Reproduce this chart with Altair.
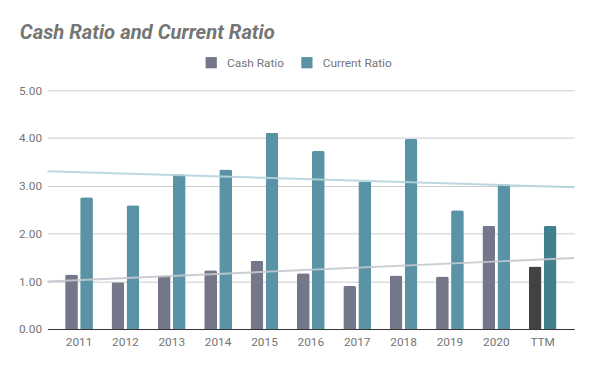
import altair as alt
import pandas as pd

years = ["2011", "2012", "2013", "2014", "2015", "2016", "2017", "2018", "2019", "2020", "TTM"]
cash_ratio = [1.14, 0.98, 1.12, 1.23, 1.43, 1.17, 0.90, 1.12, 1.10, 2.16, 1.31]
current_ratio = [2.76, 2.59, 3.24, 3.34, 4.11, 3.73, 3.09, 3.98, 2.49, 3.03, 2.16]
series_names = ["Cash Ratio", "Current Ratio"]
y_ticks = [0, 1, 2, 3, 4, 5]

rows = []
for i, yr in enumerate(years):
    for name, vals in zip(series_names, [cash_ratio, current_ratio]):
        key = name + (" TTM" if yr == "TTM" else "")
        rows.append({"year": yr, "idx": i, "series": name, "key": key, "value": vals[i]})
df = pd.DataFrame(rows)

FONT = "Roboto"
GREY = "#757575"

x_band = alt.X("year:N", sort=years, title=None,
               scale=alt.Scale(paddingInner=0.4, paddingOuter=0.381),
               axis=alt.Axis(labelAngle=0, labelColor=GREY, labelFontSize=12, labelFont=FONT,
                             ticks=False, domainColor="#333333", labelPadding=8, grid=False))
y_enc = alt.Y("value:Q", title=None,
              scale=alt.Scale(domain=[0, 5], nice=False),
              axis=alt.Axis(values=y_ticks, format=".2f", labelColor=GREY, labelFontSize=12,
                            labelFont=FONT, ticks=False, domain=False, gridColor="#cccccc",
                            labelPadding=6))

bars = alt.Chart(df).mark_bar(cornerRadiusTopLeft=2, cornerRadiusTopRight=2).encode(
    x=x_band,
    xOffset=alt.XOffset("series:N", sort=series_names, scale=alt.Scale(paddingInner=0.15)),
    y=y_enc,
    color=alt.Color("key:N",
                    scale=alt.Scale(domain=["Cash Ratio", "Current Ratio", "Cash Ratio TTM", "Current Ratio TTM"],
                                    range=["#737789", "#5a93a5", "#424242", "#43808d"]),
                    legend=alt.Legend(values=series_names, title=None, orient="none",
                                      legendX=160, legendY=-34, direction="horizontal",
                                      symbolType="square", symbolSize=130, symbolStrokeWidth=0,
                                      labelFont=FONT, labelFontSize=12, labelColor=GREY,
                                      labelOffset=10, columnPadding=17)),
)

trend = alt.Chart(df).transform_regression(
    "idx", "value", groupby=["series"], extent=[-0.68, 10.68]
).mark_line(strokeWidth=2, opacity=0.9).encode(
    x=alt.X("idx:Q", scale=alt.Scale(domain=[-0.68, 10.68], nice=False, zero=False), axis=None),
    y=alt.Y("value:Q", scale=alt.Scale(domain=[0, 5], nice=False)),
    stroke=alt.Stroke("series:N", scale=alt.Scale(domain=series_names, range=["#c5c8d0", "#b5d3db"]),
                      legend=None),
)

chart = alt.layer(bars, trend).resolve_scale(x="independent").properties(
    width=534, height=242,
    autosize=alt.AutoSizeParams(type="none"),
    padding={"left": 40, "top": 81, "right": 18, "bottom": 32},
    title=alt.TitleParams("Cash Ratio and Current Ratio", anchor="start", frame="group",
                          dx=-28, dy=12, offset=10, baseline="alphabetic",
                          font=FONT, fontSize=20.5, fontWeight="bold", fontStyle="italic", color=GREY),
).configure_view(stroke=None)

chart.save("out.html", embed_options={"renderer": "svg", "actions": False})
